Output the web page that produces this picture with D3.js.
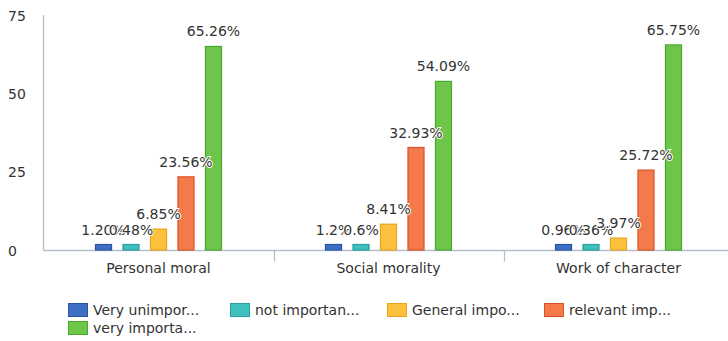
<!DOCTYPE html>
<html><head><meta charset="utf-8">
<script src="https://cdn.jsdelivr.net/npm/d3@7/dist/d3.min.js"></script>
<style>
html,body{margin:0;padding:0;background:#fff;}
svg{display:block;font-family:"DejaVu Sans",sans-serif;}
</style></head>
<body><svg id="c" width="728" height="341"></svg>
<script>
const categories = ["Personal moral", "Social morality", "Work of character"];
const seriesNames = ["Very unimpor...", "not importan...", "General impo...", "relevant imp...", "very importa..."];
const veryUnimportant = [1.20, 1.2, 0.96];
const notImportant = [0.48, 0.6, 0.36];
const generalImportant = [6.85, 8.41, 3.97];
const relevantImportant = [23.56, 32.93, 25.72];
const veryImportant = [65.26, 54.09, 65.75];
const labelsVeryUnimportant = ["1.20%", "1.2%", "0.96%"];
const labelsNotImportant = ["0.48%", "0.6%", "0.36%"];
const labelsGeneral = ["6.85%", "8.41%", "3.97%"];
const labelsRelevant = ["23.56%", "32.93%", "25.72%"];
const labelsVery = ["65.26%", "54.09%", "65.75%"];
const yTicks = [0, 25, 50, 75];

const fills = ["#3d6fc2", "#40c0bd", "#fcc23d", "#f47a4b", "#6dc64a"];
const strokes = ["#2953a3", "#25a09e", "#e8a321", "#d95228", "#4aa82a"];

const seriesValues = [veryUnimportant, notImportant, generalImportant, relevantImportant, veryImportant];
const seriesLabels = [labelsVeryUnimportant, labelsNotImportant, labelsGeneral, labelsRelevant, labelsVery];

const svg = d3.select("#c");
const x0 = d3.scaleBand().domain(categories).range([43.5, 733.5]);
const x1 = d3.scaleBand().domain(seriesNames).range([0, 127]).paddingInner(0.38).paddingOuter(0);
const y = d3.scaleLinear().domain([0, 75]).range([250.5, 16]);
const minH = 6;

// y axis
const gy = svg.append("g");
gy.append("line").attr("x1", 43.5).attr("x2", 43.5).attr("y1", y(75) - 1).attr("y2", y(0))
  .attr("stroke", "#b4bfcd").attr("stroke-width", 1.3);
gy.selectAll("text").data(yTicks).join("text")
  .attr("x", 8).attr("y", d => y(d)).attr("dy", "0.36em")
  .attr("font-size", 14).attr("fill", "#333").text(d => d);

// x axis
const gx = svg.append("g");
gx.append("line").attr("x1", 43.5).attr("x2", 728).attr("y1", y(0)).attr("y2", y(0))
  .attr("stroke", "#b4bfcd").attr("stroke-width", 1.3);
gx.selectAll("line.tick").data(categories.slice(1)).join("line").attr("class", "tick")
  .attr("x1", d => Math.round(x0(d)) + 0.5).attr("x2", d => Math.round(x0(d)) + 0.5)
  .attr("y1", y(0)).attr("y2", y(0) + 11)
  .attr("stroke", "#b4bfcd").attr("stroke-width", 1.3);
gx.selectAll("text").data(categories).join("text")
  .attr("x", d => x0(d) + x0.bandwidth() / 2).attr("y", 273)
  .attr("text-anchor", "middle").attr("font-size", 14).attr("fill", "#333").text(d => d);

// bars
const groups = svg.append("g").selectAll("g").data(categories).join("g")
  .attr("transform", d => `translate(${x0(d) + (x0.bandwidth() - 127) / 2},0)`);
seriesNames.forEach((s, si) => {
  groups.append("rect")
    .attr("x", x1(s) + 0.5)
    .attr("width", x1.bandwidth() - 1)
    .attr("y", (d, i) => Math.min(y(seriesValues[si][i]), y(0) - minH))
    .attr("height", (d, i) => Math.max(y(0) - y(seriesValues[si][i]), minH) - 0.5)
    .attr("fill", fills[si]).attr("stroke", strokes[si]).attr("stroke-width", 1.2);
});
seriesNames.forEach((s, si) => {
  groups.append("text")
    .attr("x", x1(s) + x1.bandwidth() / 2)
    .attr("y", (d, i) => Math.min(y(seriesValues[si][i]), y(0) - minH) - 10)
    .attr("text-anchor", "middle").attr("font-size", 14).attr("fill", "#333")
    .attr("stroke", "#fff").attr("stroke-width", 2).attr("paint-order", "stroke")
    .text((d, i) => seriesLabels[si][i]);
});

// legend
const legPos = [[68, 310], [230, 310], [387, 310], [544, 310], [68, 328]];
const leg = svg.append("g").selectAll("g").data(seriesNames).join("g")
  .attr("transform", (d, i) => `translate(${legPos[i][0]},${legPos[i][1]})`);
leg.append("rect").attr("x", 0.5).attr("y", -6.5).attr("width", 19).attr("height", 13)
  .attr("fill", (d, i) => fills[i]).attr("stroke", (d, i) => strokes[i]).attr("stroke-width", 1);
leg.append("text").attr("x", 25).attr("y", 0).attr("dy", "0.36em")
  .attr("font-size", 14).attr("fill", "#333").text(d => d);
</script></body></html>
